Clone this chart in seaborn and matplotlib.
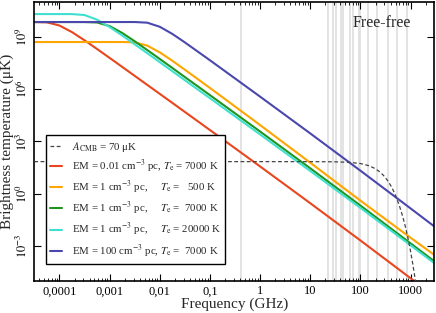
import numpy as np
import matplotlib
matplotlib.use("Agg")
import matplotlib.pyplot as plt
import seaborn as sns
from matplotlib.ticker import LogLocator, NullLocator, NullFormatter

# frequency grid (GHz) shared by the free-free curves
freq = [3.16e-5, 5.62e-5, 1.0e-4, 1.78e-4, 3.16e-4, 5.62e-4, 1.0e-3, 1.78e-3,
        3.16e-3, 5.62e-3, 1.0e-2, 1.78e-2, 3.16e-2, 0.1, 1.0, 10.0, 100.0,
        1000.0, 3162.0]

# brightness temperature in uK
t_em001_7000 = [7.0e9, 6.73e9, 4.43e9, 1.85e9, 6.31e8, 2.0e8, 6.17e7, 1.89e7,
                5.78e6, 1.76e6, 5.36e5, 1.63e5, 4.94e4, 4530, 37.1, 0.289,
                2.12e-3, 1.45e-5, 1.18e-6]
t_em1_500 = [5.0e8, 5.0e8, 5.0e8, 5.0e8, 5.0e8, 5.0e8, 5.0e8, 5.0e8,
             4.81e8, 3.13e8, 1.28e8, 4.23e7, 1.30e7, 1.17e6, 8710, 60.5,
             0.407, 3.02e-3, 2.77e-4]
t_em1_7000 = [7.0e9, 7.0e9, 7.0e9, 7.0e9, 7.0e9, 6.61e9, 4.11e9, 1.66e9,
              5.55e8, 1.74e8, 5.35e7, 1.63e7, 4.94e6, 4.53e5, 3710, 28.9,
              0.212, 1.45e-3, 1.18e-4]
t_em1_20000 = [2.0e10, 2.0e10, 2.0e10, 2.0e10, 1.76e10, 9.58e9, 3.62e9, 1.19e9,
               3.72e8, 1.15e8, 3.51e7, 1.07e7, 3.26e6, 3.02e5, 2530, 20.4,
               0.156, 1.12e-3, 9.2e-5]
t_em100_7000 = [7.0e9, 7.0e9, 7.0e9, 7.0e9, 7.0e9, 7.0e9, 7.0e9, 7.0e9,
                7.0e9, 6.43e9, 3.75e9, 1.46e9, 4.78e8, 4.52e7, 3.71e5, 2890,
                21.2, 0.145, 0.0118]

# CMB anisotropy amplitude, 70 uK
cmb_freq = [3.16e-5, 1.0, 10.0, 30.0, 60.0, 100.0, 150.0, 200.0, 250.0, 300.0,
            350.0, 400.0, 450.0, 500.0, 600.0, 700.0, 800.0, 900.0, 1000.0,
            1100.0, 1200.0, 1300.0]
cmb_temp = [70.0, 70.0, 69.8, 68.4, 63.8, 54.4, 40.4, 27.2, 17.0, 10.0,
            5.62, 3.03, 1.59, 0.815, 0.201, 0.047, 0.0106, 2.3e-3, 4.88e-4,
            1.01e-4, 2.08e-5, 4.2e-6]

# observing bands (GHz)
bands = [0.408, 22.8, 28.4, 33.0, 40.7, 44.1, 60.8, 70.4, 93.5, 100.0,
         143.0, 217.0, 353.0, 545.0, 857.0]

labels = [
    r"EM = 0.01 cm$^{-3}$ pc, $T_\mathrm{e}$ = 7000 K",
    r"EM = 1 cm$^{-3}$ pc,     $T_\mathrm{e}$ =   500 K",
    r"EM = 1 cm$^{-3}$ pc,     $T_\mathrm{e}$ =  7000 K",
    r"EM = 1 cm$^{-3}$ pc,     $T_\mathrm{e}$ = 20000 K",
    r"EM = 100 cm$^{-3}$ pc, $T_\mathrm{e}$ =  7000 K",
]
colors = ["#e8461e", "#ffa500", "#1e961e", "#40e0d0", "#4a48ad"]
series = [t_em001_7000, t_em1_500, t_em1_7000, t_em1_20000, t_em100_7000]

xtick_vals = [1e-4, 1e-3, 1e-2, 1e-1, 1, 10, 100, 1000]
xtick_labels = ["0,0001", "0,001", "0,01", "0,1", "1", "10", "100", "1000"]
ytick_vals = [1e-3, 1, 1e3, 1e6, 1e9]
ytick_labels = ["$10^{-3}$", "$10^{0}$", "$10^{3}$", "$10^{6}$", "$10^{9}$"]

sns.set_style("ticks")
plt.rcParams["font.family"] = ["Liberation Serif", "DejaVu Serif"]
plt.rcParams["mathtext.fontset"] = "stix"

fig, ax = plt.subplots(figsize=(4.36, 3.13), dpi=100)
fig.subplots_adjust(left=0.079, right=0.995, top=0.994, bottom=0.102)

for b in bands:
    ax.axvline(b, color="#e0e0e0", lw=1.3, zorder=0)

sns.lineplot(x=cmb_freq, y=cmb_temp, ax=ax, color="#444444", lw=0.9,
             linestyle=(0, (3, 2)), label=r"$A_\mathrm{CMB}$ = 70 μK",
             sort=False, zorder=3)
for vals, col, lab in zip(series, colors, labels):
    sns.lineplot(x=freq, y=vals, ax=ax, color=col, lw=1.5, label=lab,
                 sort=False, zorder=2)

ax.set_xscale("log")
ax.set_yscale("log")
ax.set_xlim(3.18e-5, 2.9e3)
ax.set_ylim(1e-5, 1e11)

ax.set_xticks(xtick_vals, xtick_labels)
ax.xaxis.set_minor_locator(LogLocator(base=10, subs=np.arange(2, 10), numticks=20))
ax.xaxis.set_minor_formatter(NullFormatter())
ax.set_yticks(ytick_vals, ytick_labels)
ax.yaxis.set_minor_locator(NullLocator())
for t in ax.get_yticklabels():
    t.set_rotation(90)
    t.set_va("center")

ax.tick_params(which="both", direction="in", top=True, right=True,
               labelsize=9, colors="black", pad=3)
ax.tick_params(which="major", length=5, width=0.8)
ax.tick_params(which="minor", length=2.5, width=0.6)
for s in ax.spines.values():
    s.set_linewidth(1.2)
    s.set_color("black")

ax.set_xlabel("Frequency (GHz)", fontsize=11, labelpad=0)
ax.set_ylabel("Brightness temperature (μK)", fontsize=11, labelpad=0)
ax.text(0.87, 0.925, "Free-free", transform=ax.transAxes, ha="center",
        va="center", fontsize=11.5)

leg = ax.legend(loc="lower left", bbox_to_anchor=(0.028, 0.061),
                borderaxespad=0, fontsize=7.8, handlelength=1.1,
                handletextpad=0.9, labelspacing=0.38, fancybox=False,
                framealpha=1, edgecolor="black", borderpad=0.4)
leg.get_frame().set_linewidth(1.0)

fig.savefig("out.png", dpi=100, facecolor="white")
